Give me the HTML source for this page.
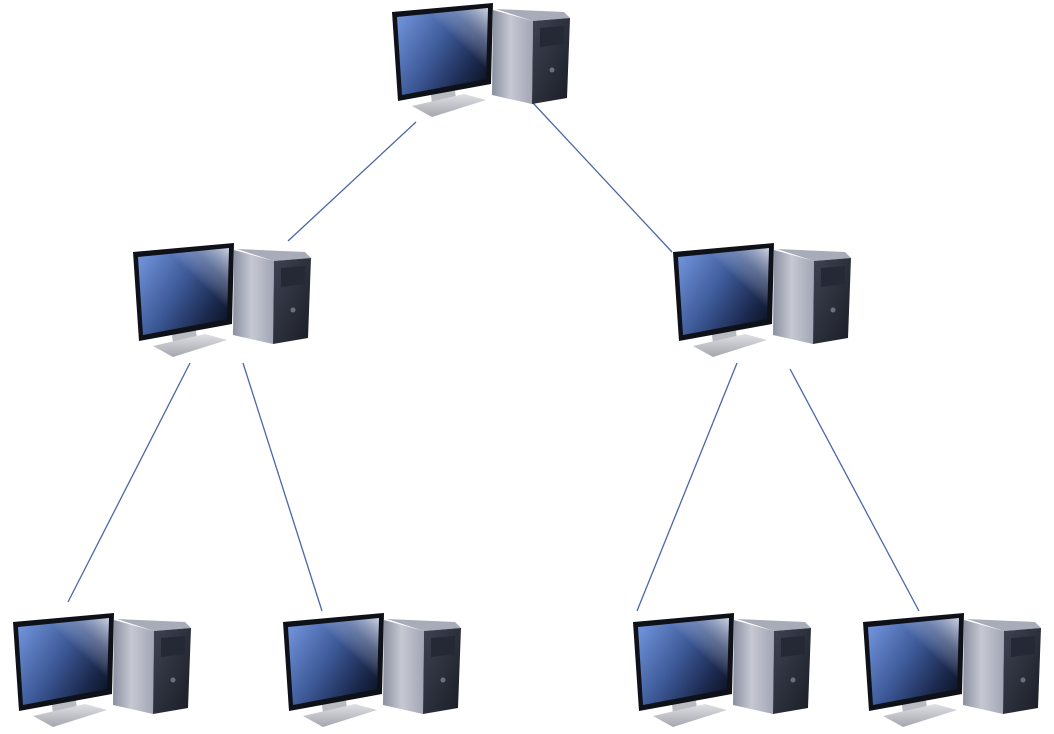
<!DOCTYPE html>
<html><head><meta charset="utf-8"><style>
html,body{margin:0;padding:0;background:#fff;width:1054px;height:734px;overflow:hidden}
svg{display:block}
</style></head><body>
<svg width="1054" height="734" viewBox="0 0 1054 734" xmlns="http://www.w3.org/2000/svg">
<defs>
<linearGradient id="scr" x1="0" y1="0.2" x2="1" y2="0.8">
<stop offset="0" stop-color="#6d8fd6"/><stop offset="0.45" stop-color="#3c5896"/><stop offset="0.8" stop-color="#1c2a50"/><stop offset="1" stop-color="#0e1628"/>
</linearGradient>
<linearGradient id="gl" x1="1" y1="0" x2="0.4" y2="0.6">
<stop offset="0" stop-color="#e8ecf4" stop-opacity="0.85"/><stop offset="0.35" stop-color="#c0c8dc" stop-opacity="0.35"/><stop offset="0.6" stop-color="#fff" stop-opacity="0"/>
</linearGradient>
<linearGradient id="side" x1="0" y1="0" x2="1" y2="0">
<stop offset="0" stop-color="#8a8fa0"/><stop offset="0.45" stop-color="#c6c9d3"/><stop offset="1" stop-color="#a2a6b4"/>
</linearGradient>
<linearGradient id="front" x1="0" y1="0" x2="1" y2="1">
<stop offset="0" stop-color="#3e4352"/><stop offset="1" stop-color="#1a1d25"/>
</linearGradient>
<linearGradient id="base" x1="0" y1="0" x2="0" y2="1">
<stop offset="0" stop-color="#e0e0e4"/><stop offset="1" stop-color="#a4a6ae"/>
</linearGradient>
<g id="pc">
<polygon points="104,9 172,12 178,18 141,21" fill="#a8acb8"/>
<polygon points="101,10 141,21 140,104 100,95" fill="url(#side)"/>
<polygon points="141,21 178,18 175,98 140,104" fill="url(#front)"/>
<polygon points="148,28 172,26 172,44 148,47" fill="#252935"/>
<circle cx="160" cy="70" r="2.5" fill="#6a7080"/>
<polygon points="38,88 62,84 64,98 40,103" fill="#b9bbc2"/>
<polygon points="20,106 72,94 94,100 40,117" fill="url(#base)"/>
<polygon points="0,12 101,3 99,84 6,101" fill="#0e1118"/>
<polygon points="5,17 96,8 94,79 10,95" fill="url(#scr)"/>
<polygon points="5,17 96,8 94,79 10,95" fill="url(#gl)"/>
</g>
</defs>
<g stroke="#4a68a6" stroke-width="1.3">
<line x1="416" y1="122" x2="288" y2="241"/>
<line x1="533" y1="103" x2="672" y2="252"/>
<line x1="190" y1="363" x2="68" y2="602"/>
<line x1="243" y1="363" x2="322" y2="611"/>
<line x1="737" y1="363" x2="637" y2="611"/>
<line x1="790" y1="369" x2="919" y2="611"/>
</g>
<use href="#pc" transform="translate(392,0)"/>
<use href="#pc" transform="translate(133,240)"/>
<use href="#pc" transform="translate(673,240)"/>
<use href="#pc" transform="translate(13,610)"/>
<use href="#pc" transform="translate(283,610)"/>
<use href="#pc" transform="translate(633,610)"/>
<use href="#pc" transform="translate(863,610)"/>
</svg>
</body></html>
